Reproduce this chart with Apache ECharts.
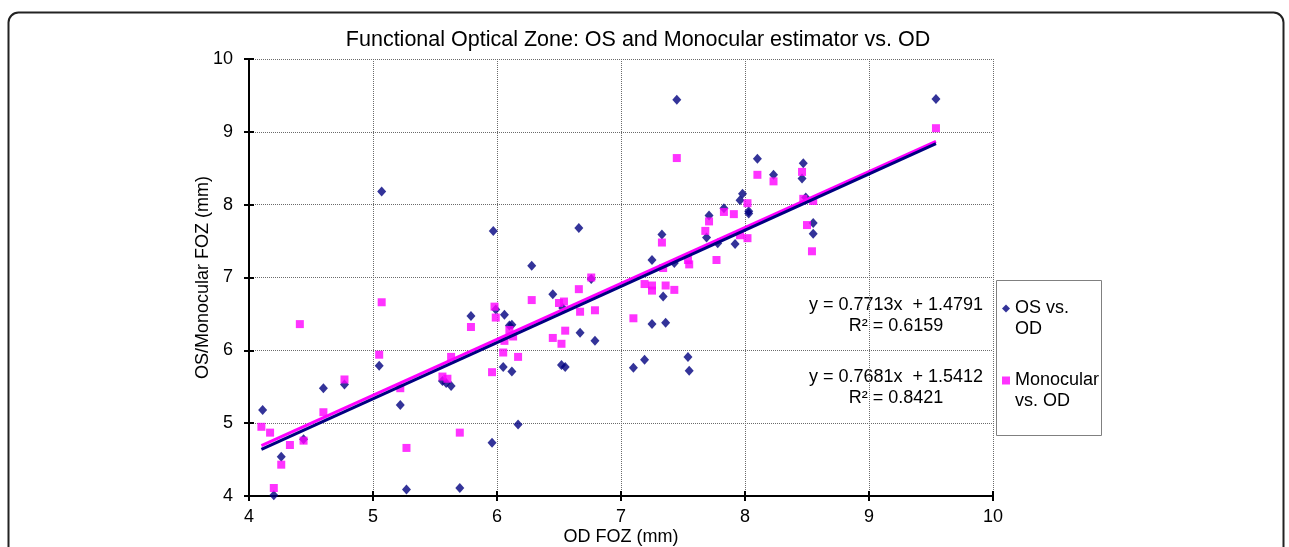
<!DOCTYPE html>
<html>
<head>
<meta charset="utf-8">
<script src="https://cdn.jsdelivr.net/npm/echarts@6/dist/echarts.min.js"></script>
<style>
html,body{margin:0;padding:0;background:#fff;}
#chart{width:1289px;height:547px;}
</style>
</head>
<body>
<div id="chart"></div>
<script>
const titleText = 'Functional Optical Zone: OS and Monocular estimator vs. OD';
const xAxisName = 'OD FOZ (mm)';
const yAxisName = 'OS/Monocular FOZ (mm)';
const seriesNames = ['OS vs. OD', 'Monocular vs. OD'];
const legendLabels = ['OS vs.\nOD', 'Monocular\nvs. OD'];

const osX = [4.11,4.26,4.20,4.44,4.60,4.77,5.05,5.07,5.22,5.27,5.56,5.59,5.63,5.70,5.79,5.96,5.97,5.99,6.05,6.06,6.10,6.12,6.12,6.17,6.28,6.45,6.52,6.53,6.55,6.66,6.67,6.76,6.79,7.10,7.19,7.25,7.25,7.33,7.34,7.36,7.43,7.45,7.54,7.55,7.69,7.71,7.78,7.83,7.92,7.96,7.98,8.03,8.03,8.10,8.23,8.46,8.47,8.49,8.55,8.55,9.54];
const osY = [5.18,4.54,4.01,4.78,5.48,5.53,5.79,8.18,5.25,4.09,5.58,5.55,5.51,4.11,6.47,4.73,7.64,6.56,5.77,6.49,6.34,6.35,5.71,4.98,7.16,6.77,5.80,6.58,5.77,7.68,6.24,6.98,6.13,5.76,5.87,7.24,6.36,7.59,6.74,6.38,7.20,9.44,5.91,5.72,7.55,7.85,7.47,7.95,7.46,8.06,8.15,7.91,7.88,8.63,8.41,8.36,8.57,8.10,7.75,7.60,9.45];

const monoX = [4.10,4.17,4.20,4.26,4.33,4.41,4.44,4.60,4.77,5.05,5.07,5.22,5.27,5.56,5.60,5.63,5.70,5.79,5.96,5.98,5.99,6.05,6.06,6.10,6.13,6.17,6.28,6.45,6.50,6.52,6.54,6.55,6.66,6.67,6.76,6.79,7.10,7.19,7.25,7.25,7.33,7.34,7.36,7.43,7.45,7.54,7.55,7.68,7.71,7.77,7.83,7.91,7.96,8.02,8.02,8.10,8.23,8.46,8.47,8.50,8.54,8.55,9.54];
const monoY = [4.95,4.87,4.11,4.43,4.70,6.36,4.76,5.15,5.60,5.94,6.66,5.48,4.66,5.64,5.61,5.91,4.87,6.32,5.70,6.60,6.45,5.97,6.13,6.28,6.19,5.91,6.69,6.17,6.65,6.09,6.67,6.27,6.84,6.53,7.00,6.55,6.44,6.91,6.89,6.82,7.48,7.13,6.89,6.83,8.64,7.24,7.18,7.64,7.77,7.24,7.90,7.87,7.58,7.54,8.02,8.41,8.32,8.45,8.08,7.72,7.36,8.05,9.05];

// Trendline: slope, intercept, R² as printed on the chart, and x-range of the fitted data
const osFit = {slope: 0.7713, intercept: 1.4791, r2: '0.6159'};
const monoFit = {slope: 0.7681, intercept: 1.5412, r2: '0.8421'};
const trendX = [4.10, 9.54];

const axisTicks = [4, 5, 6, 7, 8, 9, 10];

const FONT = "'Liberation Sans', Arial, sans-serif";
const NAVY = '#000080';
const MAGENTA = '#FF00FF';

function pts(xs, ys){ return xs.map((x,i)=>[x, ys[i]]); }
function fitLine(f){ return trendX.map(x=>[x, f.slope*x + f.intercept]); }
function eq(f){ return 'y = ' + f.slope.toFixed(4) + 'x  + ' + f.intercept.toFixed(4); }

const chart = echarts.init(document.getElementById('chart'), null, {renderer:'canvas'});

const baseX = {
  type:'value', min: axisTicks[0], max: axisTicks[axisTicks.length-1], interval: 1,
  position:'bottom'
};
const baseY = {
  type:'value', min: axisTicks[0], max: axisTicks[axisTicks.length-1], interval: 1,
  position:'left'
};

const option = {
  backgroundColor:'#ffffff',
  animation:false,
  title:{
    text:titleText, left:633, top:24, textAlign:'center',
    textStyle:{fontFamily:FONT, fontSize:21.5, fontWeight:'normal', color:'#000'}
  },
  grid:{left:249, right:296, top:59, bottom:51, containLabel:false, outerBoundsMode:'none'},
  legend:{
    data: seriesNames,
    orient:'vertical', left:1002, top:277, itemGap:9, padding:0,
    itemWidth:8, itemHeight:8,
    formatter: function(name){ return ' \n' + legendLabels[seriesNames.indexOf(name)]; },
    textStyle:{fontFamily:FONT, fontSize:18, lineHeight:21, color:'#000'},
    selectedMode:false
  },
  xAxis:[
    Object.assign({}, baseX, {
      name:xAxisName, nameLocation:'middle', nameGap:32, nameMoveOverlap:false,
      nameTextStyle:{fontFamily:FONT, fontSize:18, color:'#000'},
      axisLine:{show:true, lineStyle:{color:'#000', width:2}},
      axisTick:{show:true, inside:false, length:5, lineStyle:{color:'#000', width:2}},
      axisLabel:{fontFamily:FONT, fontSize:18, color:'#000', margin:12},
      splitLine:{show:true, lineStyle:{color:'#6a6a6a', type:'dotted', width:1}}
    }),
    Object.assign({}, baseX, {
      axisLine:{show:false},
      axisTick:{show:true, inside:true, length:5, lineStyle:{color:'#000', width:2}},
      axisLabel:{show:false}, splitLine:{show:false}
    })
  ],
  yAxis:[
    Object.assign({}, baseY, {
      name:yAxisName, nameLocation:'middle', nameGap:37, nameMoveOverlap:false,
      nameTextStyle:{fontFamily:FONT, fontSize:18, color:'#000'},
      axisLine:{show:true, lineStyle:{color:'#000', width:2}},
      axisTick:{show:true, inside:false, length:5, lineStyle:{color:'#000', width:2}},
      axisLabel:{fontFamily:FONT, fontSize:18, color:'#000', margin:16},
      splitLine:{show:true, lineStyle:{color:'#6a6a6a', type:'dotted', width:1}}
    }),
    Object.assign({}, baseY, {
      axisLine:{show:false},
      axisTick:{show:true, inside:true, length:5, lineStyle:{color:'#000', width:2}},
      axisLabel:{show:false}, splitLine:{show:false}
    })
  ],
  series:[
    {
      name:seriesNames[0], type:'scatter', data:pts(osX, osY),
      symbol:'diamond', symbolSize:[9,10], itemStyle:{color:NAVY}, z:2
    },
    {
      name:seriesNames[1], type:'scatter', data:pts(monoX, monoY),
      symbol:'rect', symbolSize:8, itemStyle:{color:MAGENTA}, z:3
    },
    {
      name:'OS trend', type:'line', data:fitLine(osFit), symbol:'none',
      lineStyle:{color:NAVY, width:3}, z:5, silent:true
    },
    {
      name:'Monocular trend', type:'line', data:fitLine(monoFit), symbol:'none',
      lineStyle:{color:MAGENTA, width:3}, z:4, silent:true
    }
  ],
  graphic:[
    {type:'rect', left:6, top:10, z:-10, silent:true,
     shape:{x:0,y:0,width:1275,height:620,r:10},
     style:{fill:'none', stroke:'#222', lineWidth:2}},
    {type:'rect', z:-5, silent:true,
     shape:{x:996.5,y:280.5,width:105,height:155},
     style:{fill:'#fff', stroke:'#808080', lineWidth:1}},
    {type:'text', x:896, y:305, silent:true,
     style:{text:eq(osFit), font:"18px "+FONT, fill:'#000', align:'center', verticalAlign:'middle'}},
    {type:'text', x:896, y:326, silent:true,
     style:{text:'R² = ' + osFit.r2, font:"18px "+FONT, fill:'#000', align:'center', verticalAlign:'middle'}},
    {type:'text', x:896, y:377, silent:true,
     style:{text:eq(monoFit), font:"18px "+FONT, fill:'#000', align:'center', verticalAlign:'middle'}},
    {type:'text', x:896, y:398, silent:true,
     style:{text:'R² = ' + monoFit.r2, font:"18px "+FONT, fill:'#000', align:'center', verticalAlign:'middle'}}
  ]
};
chart.setOption(option);
</script>
</body>
</html>
